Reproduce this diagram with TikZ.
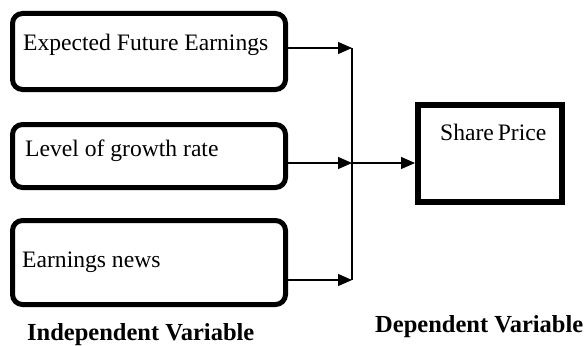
\documentclass[tikz,border=0pt]{standalone}
\usepackage{fontspec}
\setmainfont{Liberation Serif}
\usetikzlibrary{arrows.meta}
\begin{document}
\begin{tikzpicture}[x=1pt,y=-1pt,
  ivbox/.style={draw, rounded corners=10pt, line width=5pt, inner sep=0pt, minimum width=273pt},
  dvbox/.style={draw, line width=6pt, inner sep=0pt, minimum width=144pt, minimum height=97pt},
  lbl/.style={anchor=base west, inner sep=0pt, font=\fontsize{23.6}{27}\selectfont},
  captxt/.style={anchor=base west, inner sep=0pt, font=\fontsize{24.5}{28}\selectfont\bfseries},
  conn/.style={line width=1.3pt},
  arr/.style={conn, -{Triangle[length=14pt,width=12pt]}}]
\useasboundingbox (0,0) rectangle (585,345);
\node[ivbox, minimum height=76pt] (box1) at (149,51.5) {};
\node[ivbox, minimum height=63pt] (box2) at (149,156) {};
\node[ivbox, minimum height=84pt] (box3) at (149,262.5) {};
\node[dvbox] (share) at (490,153.5) {};
\node[lbl] (t1) at (23,51) {Expected Future Earnings};
\node[lbl] (t2) at (25,156) {Level of growth rate};
\node[lbl] (t3) at (22,267) {Earnings news};
\node[lbl] (t4) at (440,140) {Share\,Price};
\node[captxt] (c1) at (27,340) {Independent Variable};
\node[captxt] (c2) at (375,332) {Dependent Variable};
\coordinate (j1) at (352,48);
\coordinate (j2) at (352,163);
\coordinate (j3) at (352,280);
\draw[conn] (j1) -- (j3);
\draw[arr] (box1.east |- j1) -- (j1);
\draw[arr] (box2.east |- j2) -- (j2);
\draw[arr] (box3.east |- j3) -- (j3);
\draw[arr] (j2) -- (share.west |- j2);
\end{tikzpicture}
\end{document}
